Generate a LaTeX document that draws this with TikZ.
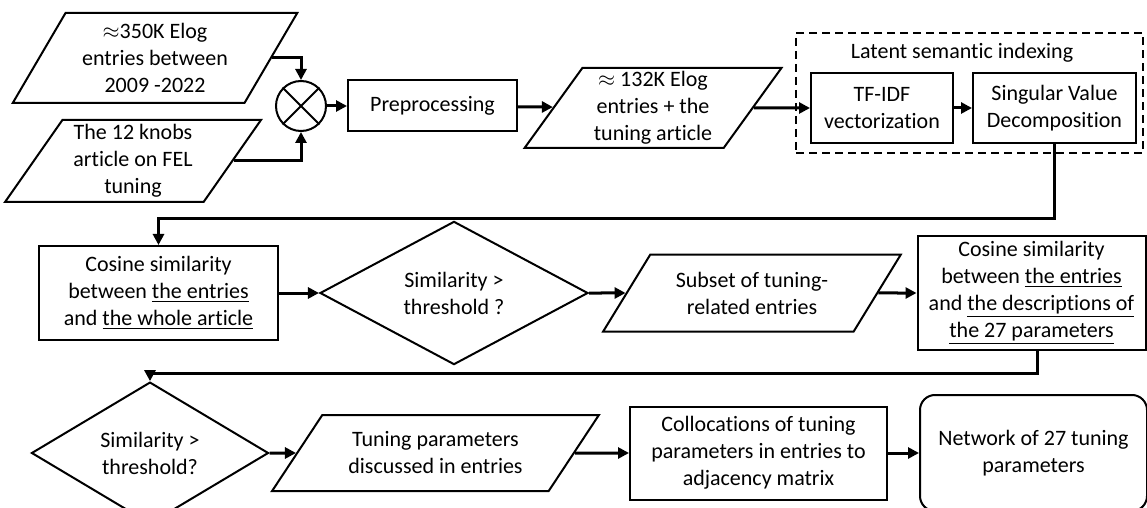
\documentclass[tikz,border=0pt]{standalone}
\usepackage{fontspec}
\setmainfont{Carlito}[Ligatures=NoCommon]
\usetikzlibrary{shapes.geometric, arrows.meta, positioning}
\tikzstyle{process} = [rectangle, draw=black, line width=1pt, align=center, inner sep=1pt]
\tikzstyle{io} = [trapezium, trapezium stretches=true, draw=black, line width=1pt, align=center, inner sep=1pt]
\tikzstyle{decision} = [diamond, draw=black, line width=1pt, align=center, inner sep=0pt]
\tikzstyle{terminal} = [rectangle, rounded corners=7.5pt, draw=black, line width=1pt, align=center]
\tikzstyle{arrow} = [line width=1.5pt, -{Triangle[length=5.5pt,width=5.5pt]}]

\begin{document}
\begin{tikzpicture}[x=0.5pt, y=-0.5pt, font=\fontsize{11}{13.5}\selectfont]
    \useasboundingbox (0,0) rectangle (1147,508);

    % Inputs
    \node (dbtitle) [anchor=base west, font=\fontsize{14}{16}\selectfont] at (10,-5) {database};
    \node (elog) [io, trapezium left angle=59, trapezium right angle=121, minimum width=142.5pt, minimum height=45pt] at (155,58) {$\approx$350K Elog\\entries between\\2009 -2022};
    \node (knobs) [io, trapezium left angle=57, trapezium right angle=123, minimum width=128pt, minimum height=41pt] at (133,161) {The 12 knobs\\article on FEL\\tuning};
    \node (mix) [circle, draw=black, line width=1pt, minimum size=25pt, inner sep=0pt] at (301,106) {};

    % First row
    \node (prep) [process, right=10pt of mix, minimum width=84.5pt, minimum height=25.5pt] {Preprocessing};
    \node (corpus) [io, trapezium left angle=57, trapezium right angle=123, minimum width=128.5pt, minimum height=40pt] at (653,108) {$\approx$ 132K Elog\\entries + the\\tuning article};
    \node (tfidf) [process, minimum width=71pt, minimum height=35pt] at (882,108) {TF-IDF\\vectorization};
    \node (svd) [process, right=9pt of tfidf, minimum width=81.5pt, minimum height=35pt] {Singular Value\\Decomposition};
    \node (lsi) [rectangle, draw=black, line width=1pt, dash pattern=on 4pt off 2.5pt, minimum width=173.5pt, minimum height=60pt] at (969.5,93) {};
    \node (lsilabel) at (962,53) {Latent semantic indexing};

    % Second row
    \node (cos1) [process, minimum width=119.5pt, minimum height=47pt] at (158.5,293) {Cosine similarity\\between \underline{the entries}\\and \underline{the whole article}};
    \node (dia1) [decision, minimum width=134pt, minimum height=60.5pt] at (454,293) {Similarity >\\threshold ?};
    \node (subset) [io, trapezium left angle=52, trapezium right angle=128, minimum width=149pt, minimum height=38.5pt] at (752,293) {Subset of tuning-\\related entries};
    \node (cos2) [process, minimum width=114pt, minimum height=56.5pt] at (1031.5,293) {Cosine similarity\\between \underline{the entries}\\and \underline{the descriptions of}\\\underline{the 27 parameters}};

    % Third row
    \node (dia2) [decision, minimum width=118.5pt, minimum height=61pt] at (150,453) {Similarity >\\threshold?};
    \node (params) [io, trapezium left angle=49.5, trapezium right angle=130.5, minimum width=163.5pt, minimum height=38pt] at (435.5,453) {Tuning parameters\\discussed in entries};
    \node (colloc) [process, minimum width=128.5pt, minimum height=46.5pt] at (758.5,453) {Collocations of tuning\\parameters in entries to\\adjacency matrix};
    \node (network) [terminal, right=15.5pt of colloc, minimum width=113.5pt, minimum height=58pt] {Network of 27 tuning\\parameters};

    % Mixer cross
    \draw [line width=1pt] (mix.north east) -- (mix.south west);
    \draw [line width=1pt] (mix.north west) -- (mix.south east);

    % Arrows
    \draw [arrow] (elog.east) -| (mix.north);
    \draw [arrow] (knobs.east) -| (mix.south);
    \draw [arrow] (mix) -- (prep);
    \draw [arrow] (prep) -- (corpus);
    \draw [arrow] (corpus) -- (tfidf);
    \draw [arrow] (tfidf) -- (svd);
    \draw [arrow] (svd.south) -- ++(0,75) -| (cos1.north);
    \draw [arrow] (cos1) -- (dia1);
    \draw [arrow] (dia1) -- (subset);
    \draw [arrow] (subset) -- (cos2);
    \draw [arrow] ([xshift=2.75pt]cos2.south) -- ++(0,23) -| (dia2.north);
    \draw [arrow] (dia2) -- (params);
    \draw [arrow] (params) -- (colloc);
    \draw [arrow] (colloc) -- (network);

\end{tikzpicture}
\end{document}
